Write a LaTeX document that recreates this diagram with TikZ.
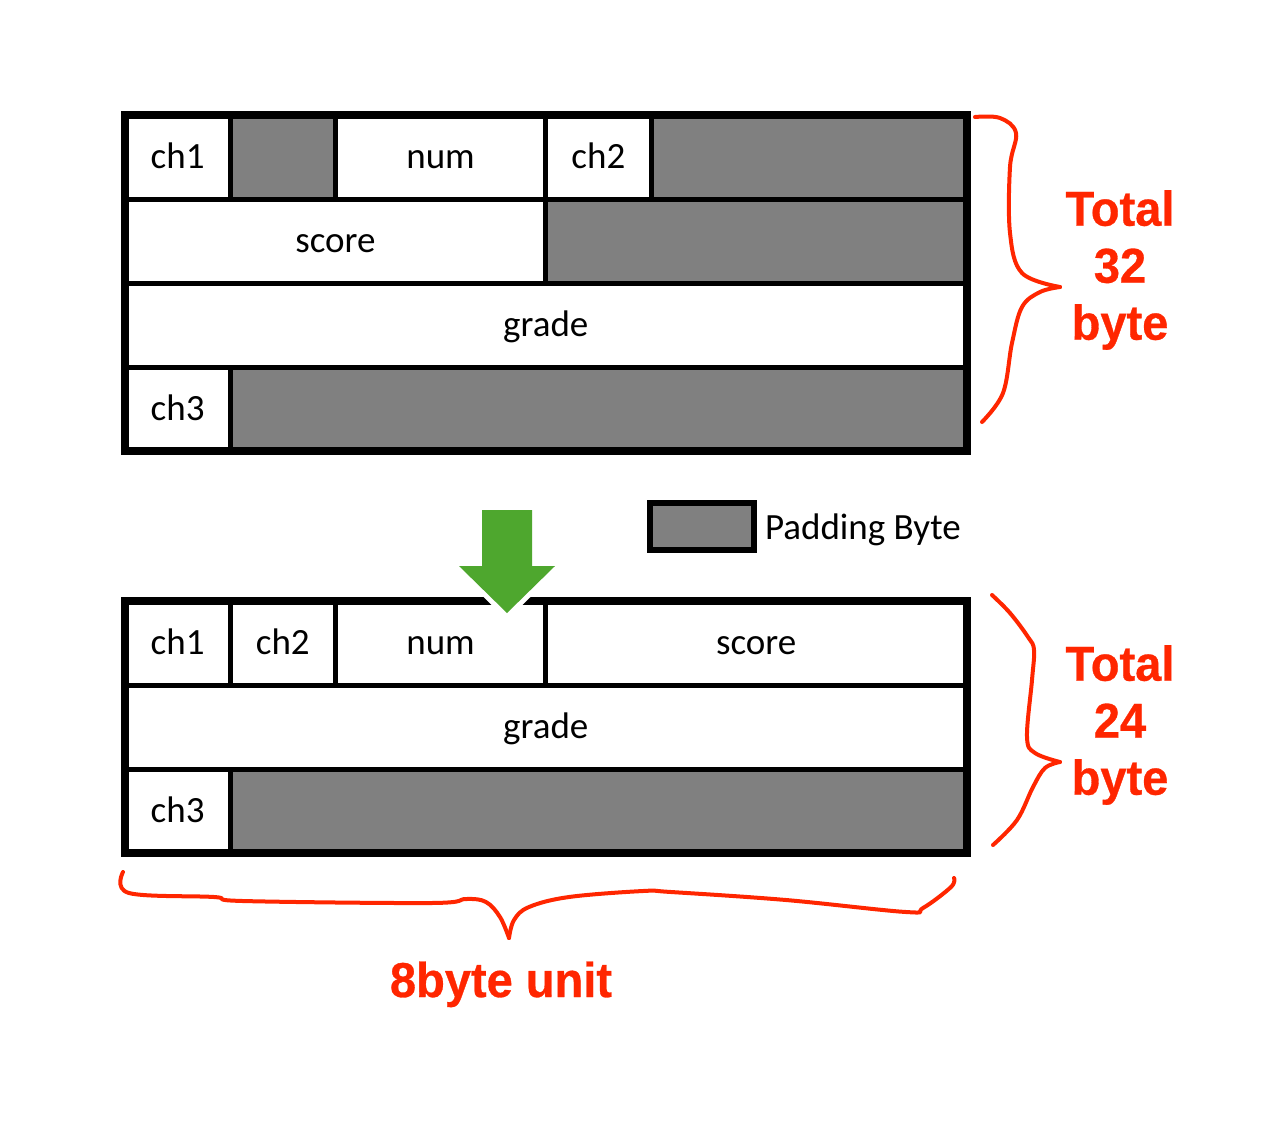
\documentclass[tikz,border=0pt]{standalone}
\usepackage{fontspec}
\setmainfont{Carlito}
\newfontfamily\redfont[FakeStretch=0.96, FakeBold=0.6]{Liberation Sans Bold}
\usepackage{tikz}
\usetikzlibrary{positioning}
\usepackage{xcolor}
\definecolor{padgray}{RGB}{128,128,128}
\definecolor{bracered}{RGB}{255,38,0}
\definecolor{arrowgreen}{RGB}{78,167,46}
\tikzstyle{cell} = [rectangle, draw=black, line width=2.5pt, fill=white, minimum height=42pt, inner sep=0pt, outer sep=0pt, text height=14.8pt, text depth=3.7pt, font=\fontsize{18.5pt}{22pt}\selectfont]
\tikzstyle{pad} = [cell, fill=padgray]
\tikzstyle{frame} = [draw=black, line width=4pt]
\tikzstyle{brace} = [draw=bracered, line width=2pt, line cap=round, line join=round]
\tikzstyle{total} = [text=bracered, align=center, inner sep=0pt, font=\redfont\fontsize{24.5pt}{28.5pt}\selectfont]
\tikzset{bytes/.style={minimum width=#1*52.6pt}}

\begin{document}
\begin{tikzpicture}[x=0.5pt, y=-0.5pt]
\useasboundingbox (0,0) rectangle (1280,1147);

\node (ch1a) [cell, bytes=1, anchor=north west] at (125,115) {ch1};
\node (gap1a) [pad, bytes=1, right=0pt of ch1a] {};
\node (numa) [cell, bytes=2, right=0pt of gap1a] {num};
\node (ch2a) [cell, bytes=1, right=0pt of numa] {ch2};
\node (gap2a) [pad, bytes=3, right=0pt of ch2a] {};
\node (scorea) [cell, bytes=4, anchor=north west] at (ch1a.south west) {score};
\node (gap3a) [pad, bytes=4, right=0pt of scorea] {};
\node (gradea) [cell, bytes=8, anchor=north west] at (scorea.south west) {grade};
\node (ch3a) [cell, bytes=1, anchor=north west] at (gradea.south west) {ch3};
\node (gap4a) [pad, bytes=7, right=0pt of ch3a] {};
\draw[frame] (ch1a.north west) rectangle (gap4a.south east);

\node (padkey) [pad, line width=3pt, minimum width=52pt, minimum height=23.5pt] at (702,526.5) {};
\node (padtext) [cell, draw=none, fill=none, right=5.5pt of padkey, yshift=-1pt] {Padding Byte};

\node (ch1b) [cell, bytes=1, anchor=north west] at (125,601) {ch1};
\node (ch2b) [cell, bytes=1, right=0pt of ch1b] {ch2};
\node (numb) [cell, bytes=2, right=0pt of ch2b] {num};
\node (scoreb) [cell, bytes=4, right=0pt of numb] {score};
\node (gradeb) [cell, bytes=8, anchor=north west] at (ch1b.south west) {grade};
\node (ch3b) [cell, bytes=1, anchor=north west] at (gradeb.south west) {ch3};
\node (gap1b) [pad, bytes=7, right=0pt of ch3b] {};
\draw[frame] (ch1b.north west) rectangle (gap1b.south east);

\fill[arrowgreen, preaction={draw=white, line width=5pt}] (482,510) -- (532,510) -- (532,566) -- (555,566) -- (507,613) -- (459,566) -- (482,566) -- cycle;

\draw[brace] plot[smooth, tension=0.6] coordinates {(975,117) (1000,118) (1016,133) (1010,167) (1010,233) (1022,273) (1060,287)};
\draw[brace] plot[smooth, tension=0.6] coordinates {(1060,287) (1040,292) (1022,307) (1012,343) (1003,393) (982,422)};
\node (total32) [total] at (1120,270) {Total\\32\\byte};

\draw[brace] plot[smooth, tension=0.6] coordinates {(992,595) (1010,613) (1028,637) (1034,650) (1032,680) (1027,737) (1035,753) (1060,762)};
\draw[brace] plot[smooth, tension=0.6] coordinates {(1060,762) (1045,768) (1033,787) (1017,820) (993,845)};
\node (total24) [total] at (1120,725) {Total\\24\\byte};

\draw[brace] plot[smooth, tension=0.6] coordinates {(123,872) (129,893) (214,897) (243,901) (431,903) (466,899) (486,902) (500,917) (509,938)};
\draw[brace] plot[smooth, tension=0.6] coordinates {(509,938) (514,920) (529,907) (569,897) (643,891) (671,892) (786,900) (906,912) (923,908) (951,887) (954,878)};
\node (unit) [total, anchor=base] at (501,997) {8byte unit};
\end{tikzpicture}
\end{document}
